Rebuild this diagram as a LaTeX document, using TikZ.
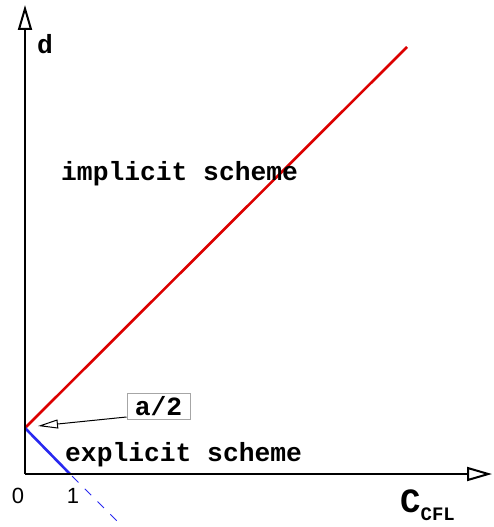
\documentclass[tikz,border=0pt]{standalone}
\usepackage{fontspec}
\setmonofont{Liberation Mono}
\newfontfamily\lsans{Liberation Sans}
\usetikzlibrary{arrows.meta}
\definecolor{redl}{RGB}{220,0,0}
\definecolor{bluel}{RGB}{40,40,240}
\tikzset{
  axis/.style={line width=2.6pt, -{Triangle[open,length=25pt,width=14pt,line width=2pt]}},
  lbl/.style={font=\ttfamily\bfseries\fontsize{26.3}{26}\selectfont, inner sep=0pt},
  num/.style={font=\lsans\fontsize{22}{22}\selectfont, inner sep=0pt},
  curve/.style={line width=2.6pt},
}
\begin{document}
\begin{tikzpicture}[x=1pt,y=-1pt]
\useasboundingbox (0,0) rectangle (493,527);
\coordinate (O) at (25,474);
\coordinate (Ytip) at (25,5);
\coordinate (Xtip) at (492,474);
\coordinate (A) at (25,428);
\coordinate (R) at (407,47);
\coordinate (B) at (70,474);
\coordinate (D) at (121,525);
\coordinate (Aend) at (38,426);
\draw[curve, redl] (A) -- (R);
\draw[curve, bluel] (A) -- (B);
\draw[line width=1pt, bluel, dash pattern=on 9pt off 9pt, dash phase=-3pt] (B) -- (D);
\draw[axis] (O) -- (Ytip);
\draw[axis] (O) -- (Xtip);
\node[lbl, anchor=base west] (d) at (37,53) {d};
\node[lbl, anchor=base west] (imp) at (61,180) {implicit scheme};
\node[lbl, anchor=base west] (exp) at (65,461) {explicit scheme};
\node[num, anchor=base] (zero) at (18,503) {0};
\node[num, anchor=base] (one) at (73,503) {1};
\node[anchor=base west, inner sep=0pt] (cfl) at (400,512) {\ttfamily\bfseries\fontsize{34}{34}\selectfont C\raisebox{-8pt}{\fontsize{19}{19}\selectfont CFL}};
\node[lbl, draw=gray!70, line width=1pt, minimum width=63pt, minimum height=26pt] (a2) at (158.5,406) {a/2};
\draw[line width=1pt, -{Triangle[open,length=20pt,width=9pt,line width=1pt]}] (a2.west |- 0,417) -- (Aend);
\end{tikzpicture}
\end{document}
